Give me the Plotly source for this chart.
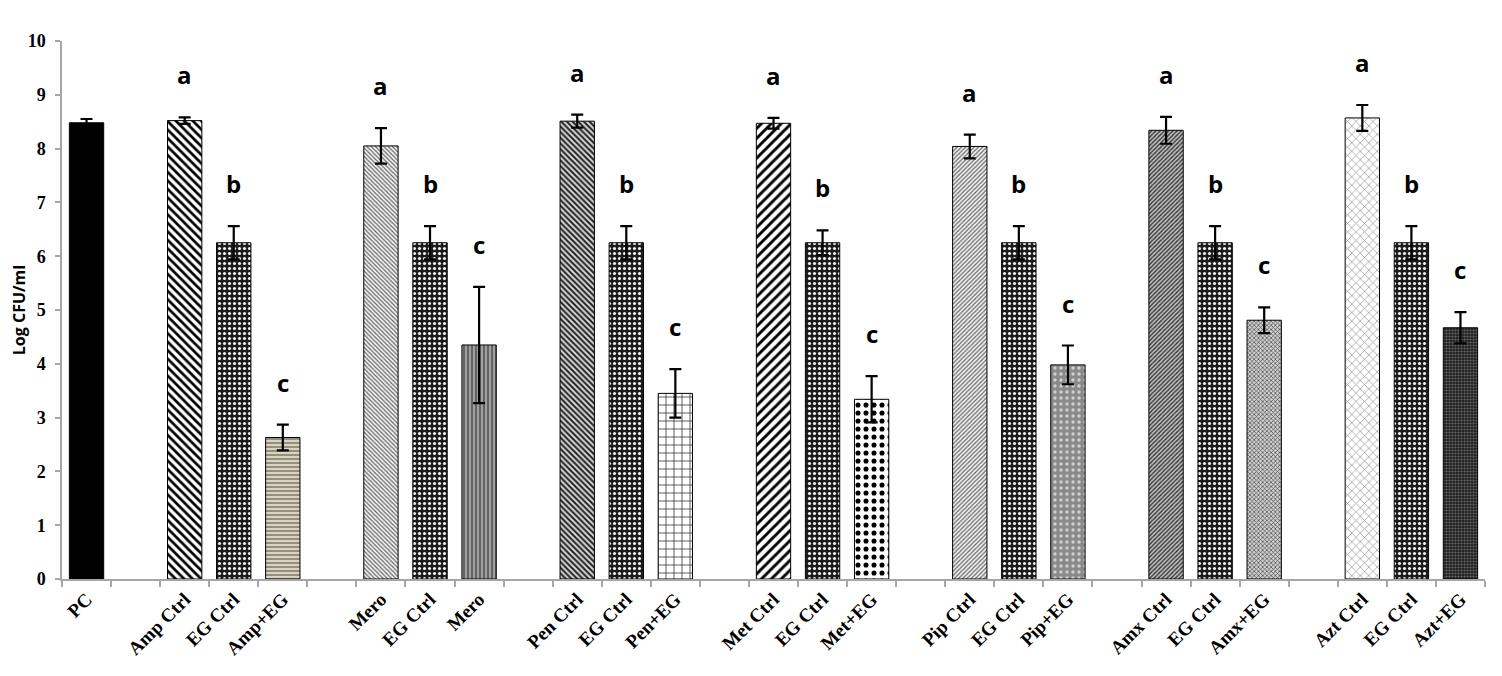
import plotly.graph_objects as go

# groups of bars, a blank slot sits between groups
groups = [
    ["PC"],
    ["Amp Ctrl", "EG Ctrl", "Amp+EG"],
    ["Mero", "EG Ctrl", "Mero"],
    ["Pen Ctrl", "EG Ctrl", "Pen+EG"],
    ["Met Ctrl", "EG Ctrl", "Met+EG"],
    ["Pip Ctrl", "EG Ctrl", "Pip+EG"],
    ["Amx Ctrl", "EG Ctrl", "Amx+EG"],
    ["Azt Ctrl", "EG Ctrl", "Azt+EG"],
]

log_cfu = [8.48,
           8.52, 6.25, 2.63,
           8.05, 6.25, 4.35,
           8.51, 6.25, 3.45,
           8.47, 6.25, 3.34,
           8.04, 6.25, 3.98,
           8.34, 6.25, 4.81,
           8.57, 6.25, 4.67]

sd = [0.07,
      0.06, 0.31, 0.24,
      0.33, 0.31, 1.08,
      0.12, 0.31, 0.45,
      0.10, 0.23, 0.43,
      0.22, 0.31, 0.36,
      0.25, 0.31, 0.24,
      0.24, 0.31, 0.29]

letters = ["",
           "a", "b", "c",
           "a", "b", "c",
           "a", "b", "c",
           "a", "b", "c",
           "a", "b", "c",
           "a", "b", "c",
           "a", "b", "c"]

# slot positions: one empty slot after each group
labels = []
xpos = []
slot = 0
for g in groups:
    for name in g:
        labels.append(name)
        xpos.append(slot)
        slot += 1
    slot += 1
n_slots = slot - 1

# fill patterns per bar: (shape, bg, fg, size, solidity)
eg = (".", "#1c1c1c", "#f2f2f2", 5, 0.3)
patterns = [
    ("", "#000000", "#000000", 8, 0.3),
    ("\\", "#ffffff", "#000000", 6, 0.45),
    eg,
    ("-", "#d8d3c2", "#77725f", 4, 0.35),
    ("\\", "#f4f4f4", "#666666", 3, 0.4),
    eg,
    ("|", "#a0a0a0", "#555555", 4, 0.4),
    ("\\", "#d8d8d8", "#222222", 4, 0.5),
    eg,
    ("+", "#ffffff", "#000000", 8, 0.15),
    ("/", "#ffffff", "#000000", 7, 0.42),
    eg,
    (".", "#ffffff", "#000000", 8, 0.32),
    ("/", "#f2f2f2", "#666666", 3, 0.4),
    eg,
    (".", "#8a8a8a", "#cfcfcf", 6, 0.25),
    ("/", "#c4c4c4", "#333333", 3, 0.45),
    eg,
    ("x", "#d0d0d0", "#444444", 3, 0.4),
    ("x", "#ffffff", "#888888", 6, 0.2),
    eg,
    (".", "#1e1e1e", "#6a6a6a", 3, 0.4),
]

fig = go.Figure()
fig.add_trace(go.Bar(
    x=xpos, y=log_cfu, width=0.7,
    error_y=dict(type="data", array=sd, color="black", thickness=2.2, width=6),
    marker=dict(
        color="black",
        line=dict(color="black", width=1),
        pattern=dict(
            shape=[p[0] for p in patterns],
            bgcolor=[p[1] for p in patterns],
            fgcolor=[p[2] for p in patterns],
            size=[p[3] for p in patterns],
            solidity=[p[4] for p in patterns],
            fillmode="replace",
        ),
    ),
    showlegend=False,
))

for xv, v, e, t in zip(xpos, log_cfu, sd, letters):
    if t:
        fig.add_annotation(x=xv, y=v + e, text="<b>%s</b>" % t, showarrow=False,
                           yanchor="bottom", yshift=24,
                           font=dict(family="Open Sans", size=24, color="black"))

# page body adds 8px around the plot div
fig.update_layout(
    width=1486, height=660,
    margin=dict(l=54, r=9, t=33, b=89),
    paper_bgcolor="white", plot_bgcolor="white",
)
fig.update_xaxes(
    range=[-0.5, n_slots - 0.5],
    tickvals=xpos, ticktext=["<b>%s</b>" % s for s in labels],
    tickangle=-45, ticks="", showgrid=False, zeroline=False,
    showline=True, linecolor="#a6a6a6", linewidth=1.5,
    tickfont=dict(family="Liberation Serif", size=19, color="black"),
    minor=dict(tickvals=[i - 0.5 for i in range(n_slots + 1)], ticks="outside",
               ticklen=6, tickcolor="#a6a6a6", tickwidth=1.5),
    automargin=False,
)
fig.update_yaxes(
    range=[0, 10], dtick=1, showgrid=False, zeroline=False,
    showline=True, linecolor="#a6a6a6", linewidth=1.5,
    ticks="outside", ticklen=5, tickcolor="#a6a6a6", tickwidth=1.5,
    ticklabelstandoff=6,
    tickfont=dict(family="Liberation Serif", size=18, color="black"),
    tickprefix="<b>", ticksuffix="</b>",
    title=dict(text="<b>Log CFU/ml</b>", standoff=12,
               font=dict(family="Open Sans", size=16, color="black")),
    automargin=False,
)

fig.write_html("out.html")
